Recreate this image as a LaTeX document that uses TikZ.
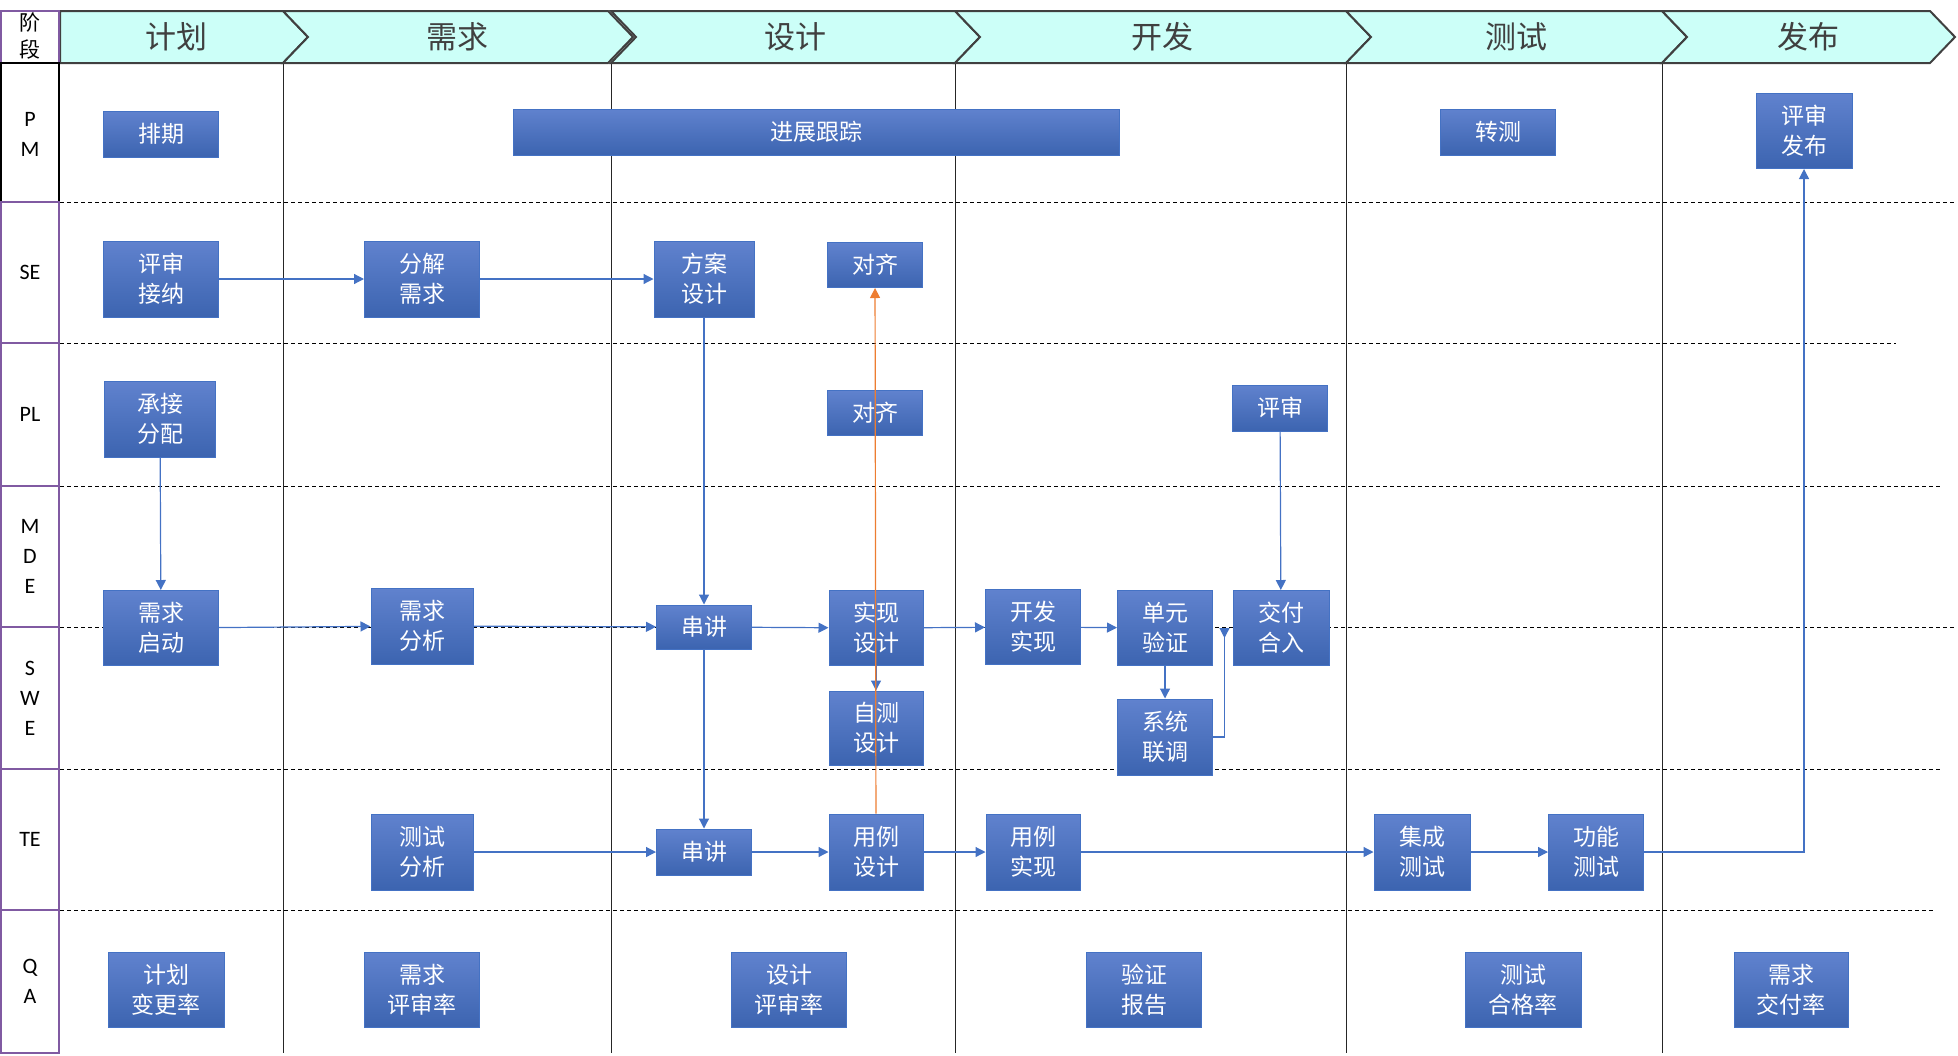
\documentclass[tikz,border=0pt]{standalone}
\usepackage{fontspec}
\setmainfont{Carlito}
\newfontfamily\cjk{Noto Sans CJK SC}
\usetikzlibrary{arrows.meta}
\definecolor{FlowBlue}{RGB}{68,114,196}
\definecolor{BoxTop}{RGB}{96,130,206}
\definecolor{BoxBottom}{RGB}{60,100,176}
\definecolor{PhaseCyan}{RGB}{204,255,248}
\definecolor{PhaseGray}{RGB}{64,64,64}
\definecolor{RolePurple}{RGB}{128,90,162}
\definecolor{LinkOrange}{RGB}{237,125,49}
\tikzset{
	task/.style={draw=FlowBlue,top color=BoxTop,bottom color=BoxBottom,text=white,line width=1pt,
		inner sep=0pt,align=center,font=\cjk\fontsize{23}{30}\selectfont},
	flow/.style={draw=FlowBlue,line width=1.2pt,-{Triangle[width=10pt,length=10pt]}},
	phase/.style={draw=PhaseGray,fill=PhaseCyan,line width=2pt,line join=miter},
	phasetext/.style={text=PhaseGray,font=\cjk\fontsize{31}{36}\selectfont},
	role/.style={draw=RolePurple,line width=2pt},
	rolelabel/.style={align=center,font=\fontsize{22}{30}\selectfont},
	divider/.style={draw=black!85,line width=1pt},
	lanesep/.style={draw=black,line width=1pt,dash pattern=on 4pt off 3pt},
}

\begin{document}
\begin{tikzpicture}[x=1pt,y=-1pt]
	\useasboundingbox (0,0) rectangle (1958,1055);
	\foreach \x in {283,611,955,1346,1662}
	\draw[divider] (\x,63) -- (\x,1053);
	\foreach \y/\e in {202/1955,343/1896,486/1942,627/1955,769/1942,910/1933}
	\draw[lanesep] (60,\y) -- (\e,\y);
	\draw[phase] (60,11) -- (283,11) -- (308,37) -- (283,63) -- (60,63) -- cycle;
	\foreach \l/\r in {283/608,611/955,955/1346,1346/1662,1662/1930}
	\draw[phase] (\l,11) -- (\r,11) -- (\r+25,37) -- (\r,63) -- (\l,63) -- (\l+25,37) -- cycle;
	\foreach \n/\x/\txt in {plan/176/计划,require/457/需求,design/795/设计,develop/1162/开发,test/1516/测试,publish/1808/发布}
	\node[phasetext] (\n) at (\x,37) {\txt};
	\draw[role] (1,11) rectangle (59,63);
	\node[rolelabel,font=\cjk\fontsize{21}{27}\selectfont] (stage) at (30,36) {阶\\段};
	\draw[draw=black,line width=2pt] (1,63) rectangle (59,202);
	\draw[role] (1,202) -- (59,202);
	\node[rolelabel] (PM) at (30,134) {P\\M};
	\foreach \n/\a/\b/\txt in {SE/202/343/SE,PL/343/486/PL,MDE/486/627/{M\\D\\E},SWE/627/769/{S\\W\\E},TE/769/910/TE,QA/910/1053/{Q\\A}}
	{
		\draw[role] (1,\a) rectangle (59,\b);
		\node[rolelabel] (\n) at (30,{(\a+\b)/2}) {\txt};
	}
	\foreach \n/\x/\y/\w/\h/\txt in {
		schedule/161/134/115/46/排期,
		track/816/132/606/46/进展跟踪,
		handover/1498/132/115/46/转测,
		release/1804/131/96/75/{评审\\发布},
		accept/161/279/115/76/{评审\\接纳},
		split/422/279/115/76/{分解\\需求},
		scheme/704/279/100/76/{方案\\设计},
		alignSE/875/265/95/45/对齐,
		assign/160/419/111/76/{承接\\分配},
		alignPL/875/413/95/45/对齐,
		reviewPL/1280/408/95/46/评审,
		kickoff/161/628/115/75/{需求\\启动},
		analysis/422/626/102/76/{需求\\分析},
		walkMD/704/627/95/44/串讲,
		implDesign/876/628/94/75/{实现\\设计},
		devImpl/1033/627/95/75/{开发\\实现},
		unitVer/1165/628/95/75/{单元\\验证},
		deliver/1281/628/96/75/{交付\\合入},
		selfTest/876/728/94/74/{自测\\设计},
		sysDebug/1165/737/95/76/{系统\\联调},
		testAna/422/852/102/76/{测试\\分析},
		walkTE/704/852/95/46/串讲,
		caseDesign/876/852/94/76/{用例\\设计},
		caseImpl/1033/852/94/76/{用例\\实现},
		integ/1422/852/96/76/{集成\\测试},
		func/1596/852/95/76/{功能\\测试},
		qaPlan/166/990/116/75/{计划\\变更率},
		qaReq/422/990/115/75/{需求\\评审率},
		qaDesign/789/990/115/75/{设计\\评审率},
		qaVerify/1144/990/115/75/{验证\\报告},
		qaTest/1523/990/116/75/{测试\\合格率},
		qaDeliver/1791/990/114/75/{需求\\交付率}}
	\node[task,minimum width=\w pt,minimum height=\h pt] (\n) at (\x,\y) {\txt};
	\foreach \a/\b in {accept/split,split/scheme,assign/kickoff,kickoff/analysis,analysis/walkMD,scheme/walkMD,
		walkMD/implDesign,walkMD/walkTE,implDesign/devImpl,devImpl/unitVer,unitVer/sysDebug,reviewPL/deliver,
		implDesign/selfTest,testAna/walkTE,walkTE/caseDesign,caseDesign/caseImpl,caseImpl/integ,integ/func}
	\draw[flow] (\a) -- (\b);
	\draw[flow] (func) -| (release);
	\coordinate (mergeIn) at ([xshift=-8pt]deliver.west);
	\draw[flow,-{Triangle[reversed,width=10pt,length=10pt]}] (sysDebug.east) -| (mergeIn);
	\draw[flow,draw=LinkOrange] (caseDesign) -- (alignSE);
\end{tikzpicture}
\end{document}
